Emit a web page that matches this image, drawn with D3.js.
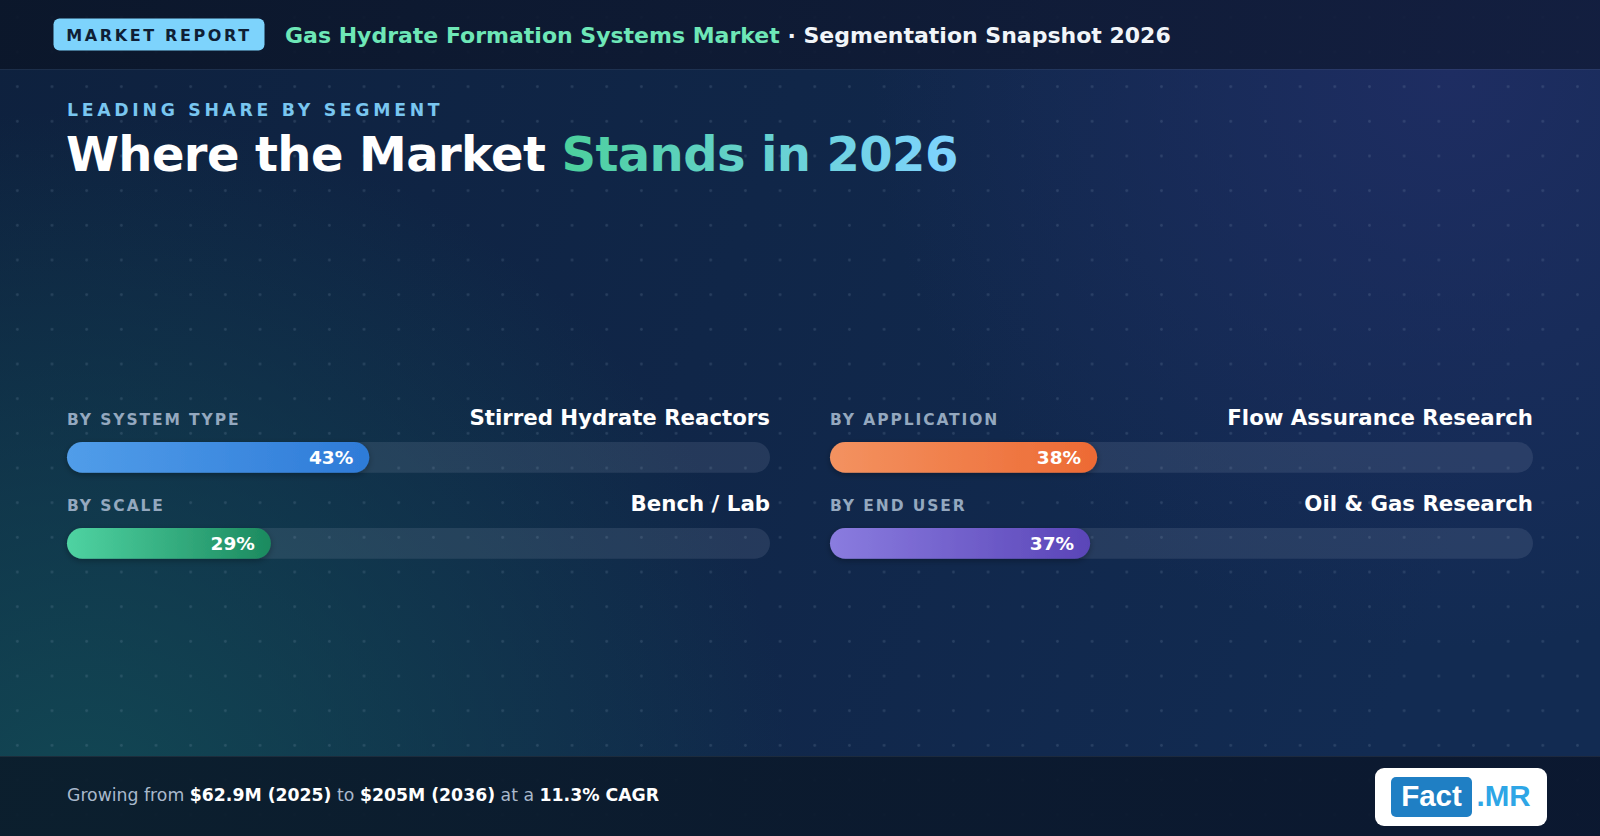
<!DOCTYPE html>
<html>
<head>
<meta charset="utf-8">
<script src="https://cdn.jsdelivr.net/npm/d3@7"></script>
<style>
  html, body { margin: 0; padding: 0; background: #0d1f3a; }
  svg { display: block; font-family: "DejaVu Sans", sans-serif; }
</style>
</head>
<body>
<div id="chart"></div>
<script>
// Data
const groups = ['BY SYSTEM TYPE', 'BY SCALE', 'BY APPLICATION', 'BY END USER'];
const leaders = ['Stirred Hydrate Reactors', 'Bench / Lab', 'Flow Assurance Research', 'Oil & Gas Research'];
const shares = [43, 29, 38, 37];
const colStart = ['#519de9', '#4fd3a2', '#f39260', '#8a7cdf'];
const colEnd = ['#2e7bd8', '#1c8a5f', '#ed6a34', '#5a45b8'];
const footerParts = [
  ['Growing from ', false], ['$62.9M (2025)', true], [' to ', false],
  ['$205M (2036)', true], [' at a ', false], ['11.3% CAGR', true]
];

(function () {
  const W = 1600, H = 836;
  const svg = d3.select('#chart').append('svg')
    .attr('width', W)
    .attr('height', H);

  const defs = svg.append('defs');

  // Background gradients
  const bg = defs.append('linearGradient').attr('id', 'bg')
    .attr('x1', 0).attr('y1', 0).attr('x2', 1).attr('y2', 0.2);
  bg.append('stop').attr('offset', '0%').attr('stop-color', '#0e213e');
  bg.append('stop').attr('offset', '100%').attr('stop-color', '#122b52');

  const teal = defs.append('radialGradient').attr('id', 'teal')
    .attr('gradientUnits', 'userSpaceOnUse')
    .attr('cx', 80).attr('cy', 830).attr('r', 720);
  teal.append('stop').attr('offset', '0%').attr('stop-color', '#124a55').attr('stop-opacity', 0.95);
  teal.append('stop').attr('offset', '45%').attr('stop-color', '#124a55').attr('stop-opacity', 0.55);
  teal.append('stop').attr('offset', '100%').attr('stop-color', '#124a55').attr('stop-opacity', 0);

  const glow = defs.append('radialGradient').attr('id', 'glow')
    .attr('gradientUnits', 'userSpaceOnUse')
    .attr('cx', 1450).attr('cy', 70).attr('r', 580);
  glow.append('stop').attr('offset', '0%').attr('stop-color', '#1e2d62').attr('stop-opacity', 1);
  glow.append('stop').attr('offset', '100%').attr('stop-color', '#1e2d62').attr('stop-opacity', 0);

  // Dot grid
  const step = 34.67;
  const pat = defs.append('pattern').attr('id', 'dots')
    .attr('patternUnits', 'userSpaceOnUse')
    .attr('width', step).attr('height', step);
  pat.append('circle')
    .attr('cx', step / 2).attr('cy', step / 2).attr('r', 1.4)
    .attr('fill', 'rgba(148,170,200,0.18)');

  const headG = defs.append('linearGradient').attr('id', 'head')
    .attr('x1', 0).attr('y1', 0).attr('x2', 1).attr('y2', 0);
  headG.append('stop').attr('offset', '0%').attr('stop-color', '#0b1629');
  headG.append('stop').attr('offset', '100%').attr('stop-color', '#121d3c');

  const footG = defs.append('linearGradient').attr('id', 'foot')
    .attr('x1', 0).attr('y1', 0).attr('x2', 1).attr('y2', 0);
  footG.append('stop').attr('offset', '0%').attr('stop-color', '#0b1c2b');
  footG.append('stop').attr('offset', '100%').attr('stop-color', '#0b172e');

  // Title accent gradient runs across "Stands in 2026" only
  const titleG = defs.append('linearGradient').attr('id', 'titleGrad')
    .attr('gradientUnits', 'userSpaceOnUse')
    .attr('x1', 560).attr('y1', 0).attr('x2', 940).attr('y2', 0);
  titleG.append('stop').attr('offset', '0%').attr('stop-color', '#4cd09c');
  titleG.append('stop').attr('offset', '100%').attr('stop-color', '#7dd3fc');

  svg.append('rect').attr('width', W).attr('height', H).attr('fill', 'url(#bg)');
  svg.append('rect').attr('width', W).attr('height', H).attr('fill', 'url(#glow)');
  svg.append('rect').attr('width', W).attr('height', H).attr('fill', 'url(#teal)');
  svg.append('rect').attr('width', W).attr('height', H).attr('fill', 'url(#dots)');

  // Header band
  svg.append('rect').attr('width', W).attr('height', 69)
    .attr('fill', 'url(#head)').attr('opacity', 0.9);
  svg.append('line').attr('x1', 0).attr('x2', W).attr('y1', 69.5).attr('y2', 69.5)
    .attr('stroke', 'rgba(255,255,255,0.06)');

  svg.append('rect')
    .attr('x', 53.5).attr('y', 18.5).attr('width', 211).attr('height', 32)
    .attr('rx', 6).attr('fill', '#7dd3fc');
  svg.append('text')
    .attr('x', 159).attr('y', 40.5)
    .attr('text-anchor', 'middle')
    .attr('font-size', 16).attr('font-weight', 700)
    .attr('letter-spacing', 2.6)
    .attr('fill', '#0f1f35')
    .text('MARKET REPORT');

  const ht = svg.append('text')
    .attr('x', 285).attr('y', 43)
    .attr('font-size', 22).attr('font-weight', 700);
  ht.append('tspan').attr('fill', '#6ee7b7').text('Gas Hydrate Formation Systems Market');
  ht.append('tspan').attr('fill', '#f1f5f9').text(' \u00b7 Segmentation Snapshot 2026');

  // Headline
  svg.append('text')
    .attr('x', 67).attr('y', 116)
    .attr('font-size', 17.3).attr('font-weight', 700)
    .attr('letter-spacing', 3.7)
    .attr('fill', '#79c6f0')
    .text('LEADING SHARE BY SEGMENT');

  const big = svg.append('text')
    .attr('x', 66).attr('y', 171)
    .attr('font-size', 48).attr('font-weight', 700)
    .attr('letter-spacing', -0.6);
  big.append('tspan').attr('fill', '#ffffff').text('Where the Market ');
  big.append('tspan').attr('fill', 'url(#titleGrad)').text('Stands in 2026');

  // Segment bars
  const colX = [67, 830];
  const trackW = 703;
  const rowY = [442, 528];
  const barH = 30.7;
  const x = d3.scaleLinear().domain([0, 100]).range([0, trackW]);

  const segs = groups.map((g, i) => ({
    group: g, leader: leaders[i], share: shares[i],
    c0: colStart[i], c1: colEnd[i],
    x0: colX[Math.floor(i / 2)], y0: rowY[i % 2], i
  }));

  segs.forEach(d => {
    const lg = defs.append('linearGradient').attr('id', 'fill' + d.i)
      .attr('x1', 0).attr('y1', 0).attr('x2', 1).attr('y2', 0);
    lg.append('stop').attr('offset', '0%').attr('stop-color', d.c0);
    lg.append('stop').attr('offset', '100%').attr('stop-color', d.c1);
  });

  const shadow = defs.append('filter').attr('id', 'shadow')
    .attr('x', '-10%').attr('y', '-40%').attr('width', '120%').attr('height', '180%');
  shadow.append('feDropShadow')
    .attr('dx', 0).attr('dy', 2).attr('stdDeviation', 3)
    .attr('flood-color', '#000').attr('flood-opacity', 0.3);

  const seg = svg.append('g').attr('class', 'segments')
    .selectAll('g').data(segs).enter().append('g')
    .attr('transform', d => `translate(${d.x0},${d.y0})`);

  seg.append('text')
    .attr('x', 0).attr('y', -17)
    .attr('font-size', 15.5).attr('font-weight', 700)
    .attr('letter-spacing', 1.9)
    .attr('fill', '#94a8bf')
    .text(d => d.group);

  seg.append('text')
    .attr('x', trackW).attr('y', -17)
    .attr('text-anchor', 'end')
    .attr('font-size', 21.3).attr('font-weight', 700)
    .attr('fill', '#ffffff')
    .text(d => d.leader);

  seg.append('rect')
    .attr('width', trackW).attr('height', barH)
    .attr('rx', barH / 2)
    .attr('fill', 'rgba(148,163,184,0.16)');

  seg.append('rect')
    .attr('width', d => x(d.share)).attr('height', barH)
    .attr('rx', barH / 2)
    .attr('fill', d => `url(#fill${d.i})`)
    .attr('filter', 'url(#shadow)');

  seg.append('text')
    .attr('x', d => x(d.share) - 16).attr('y', barH / 2 + 6.5)
    .attr('text-anchor', 'end')
    .attr('font-size', 18.5).attr('font-weight', 700)
    .attr('fill', '#ffffff')
    .text(d => d.share + '%');

  // Footer
  svg.append('rect').attr('x', 0).attr('y', 756).attr('width', W).attr('height', H - 756)
    .attr('fill', 'url(#foot)').attr('opacity', 0.93);
  svg.append('line').attr('x1', 0).attr('x2', W).attr('y1', 756.5).attr('y2', 756.5)
    .attr('stroke', 'rgba(255,255,255,0.07)');

  const ft = svg.append('text')
    .attr('x', 67).attr('y', 801)
    .attr('font-size', 17.3);
  ft.selectAll('tspan').data(footerParts).enter().append('tspan')
    .attr('font-weight', d => d[1] ? 700 : 400)
    .attr('fill', d => d[1] ? '#ffffff' : '#a9b9cc')
    .text(d => d[0]);

  // Logo
  const logo = svg.append('g');
  logo.append('rect')
    .attr('x', 1375).attr('y', 768).attr('width', 172).attr('height', 58)
    .attr('rx', 9).attr('fill', '#ffffff');
  logo.append('rect')
    .attr('x', 1391).attr('y', 777).attr('width', 81).attr('height', 40)
    .attr('rx', 5).attr('fill', '#1f7fc4');
  logo.append('text')
    .attr('x', 1431.5).attr('y', 806)
    .attr('text-anchor', 'middle')
    .attr('font-family', '"Liberation Sans", Arial, sans-serif')
    .attr('font-size', 29.5).attr('font-weight', 700)
    .attr('fill', '#ffffff')
    .text('Fact');
  logo.append('text')
    .attr('x', 1476.5).attr('y', 806)
    .attr('font-family', '"Liberation Sans", Arial, sans-serif')
    .attr('font-size', 29.5).attr('font-weight', 700)
    .attr('fill', '#2ea6e6')
    .text('.MR');
})();
</script>
</body>
</html>
